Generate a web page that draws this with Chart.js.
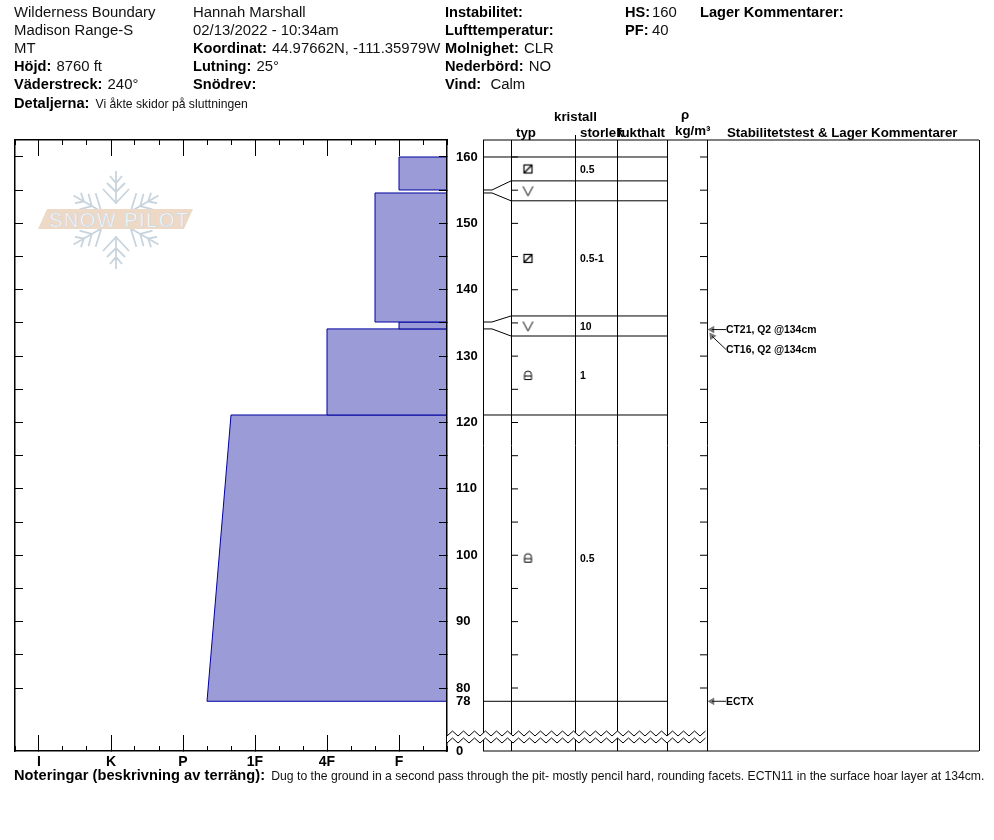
<!DOCTYPE html>
<html><head><meta charset="utf-8">
<style>
html,body{margin:0;padding:0;background:#fff;width:994px;height:840px;overflow:hidden}
body{position:relative;font-family:"Liberation Sans",Arial,sans-serif;color:#000}
.t{position:absolute;white-space:pre;font-size:14.9px;line-height:18px;color:#111}
.t b{font-weight:700;color:#000;font-size:14.6px;padding-right:1px}
.h{font-size:13.3px}
.h b{font-size:13.3px}
.s{font-size:12.2px;margin-left:1px}
canvas{position:absolute;top:0}
#logo{position:absolute;left:0;top:0}
</style></head><body>
<svg id="logo" width="300" height="300">
  <defs><g id="arm" fill="none" stroke="#c8d4dd" stroke-width="1.8">
    <path d="M0,-16V-49M-6,-44L0,-37L6,-44M-9,-37L0,-28L9,-37M-13,-31L0,-17L13,-31"/>
  </g></defs>
  <g transform="translate(116,220)">
    <use href="#arm"/><use href="#arm" transform="rotate(60)"/><use href="#arm" transform="rotate(120)"/>
    <use href="#arm" transform="rotate(180)"/><use href="#arm" transform="rotate(240)"/><use href="#arm" transform="rotate(300)"/>
  </g>
  <polygon points="38,229 47,209 193,209 184,229" fill="#eed9c6"/>
  <text x="49" y="226.5" style="font-family:'Liberation Sans',sans-serif;font-size:20px" textLength="139" lengthAdjust="spacing" fill="#fff" stroke="#cdd6dd" stroke-width="0.7">SNOW PILOT</text>
</svg>
<canvas id="hardnessChart" width="500" height="800" style="left:0"></canvas>
<canvas id="panelChart" width="547" height="800" style="left:447px"></canvas>

<div class="t" style="left:14px;top:3px">Wilderness Boundary</div>
<div class="t" style="left:14px;top:21px">Madison Range-S</div>
<div class="t" style="left:14px;top:39px">MT</div>
<div class="t" style="left:14px;top:57px"><b>Höjd:</b> 8760 ft</div>
<div class="t" style="left:14px;top:75px"><b>Väderstreck:</b> 240°</div>
<div class="t" style="left:14px;top:94px"><b>Detaljerna:</b> <span class="s">Vi åkte skidor på sluttningen</span></div>
<div class="t" style="left:193px;top:3px">Hannah Marshall</div>
<div class="t" style="left:193px;top:21px">02/13/2022 - 10:34am</div>
<div class="t" style="left:193px;top:39px"><b>Koordinat:</b> 44.97662N, -111.35979W</div>
<div class="t" style="left:193px;top:57px"><b>Lutning:</b> 25°</div>
<div class="t" style="left:193px;top:75px"><b>Snödrev:</b></div>
<div class="t" style="left:445px;top:3px"><b>Instabilitet:</b></div>
<div class="t" style="left:445px;top:21px"><b>Lufttemperatur:</b></div>
<div class="t" style="left:445px;top:39px"><b>Molnighet:</b> CLR</div>
<div class="t" style="left:445px;top:57px"><b>Nederbörd:</b> NO</div>
<div class="t" style="left:445px;top:75px"><b>Vind:</b>  Calm</div>
<div class="t" style="left:625px;top:3px"><b>HS:</b></div>
<div class="t" style="left:652px;top:3px">160</div>
<div class="t" style="left:625px;top:21px"><b>PF:</b></div>
<div class="t" style="left:652px;top:21px">40</div>
<div class="t" style="left:700px;top:3px"><b>Lager Kommentarer:</b></div>

<div class="t h" style="left:554px;top:108px"><b>kristall</b></div>
<div class="t h" style="left:516px;top:124px"><b>typ</b></div>
<div class="t h" style="left:580px;top:124px"><b>storlek</b></div>
<div class="t h" style="left:617px;top:124px"><b>fukthalt</b></div>
<div class="t h" style="left:681px;top:106px"><b>ρ</b></div>
<div class="t h" style="left:675px;top:122px"><b>kg/m³</b></div>
<div class="t h" style="left:727px;top:124px"><b>Stabilitetstest &amp; Lager Kommentarer</b></div>

<div class="t" style="left:14px;top:766px"><b style="letter-spacing:.06px">Noteringar (beskrivning av terräng):</b> <span class="s">Dug to the ground in a second pass through the pit- mostly pencil hard, rounding facets. ECTN11 in the surface hoar layer at 134cm.</span></div>

<script src="https://cdn.jsdelivr.net/npm/chart.js@4"></script>
<script>
// ---- data ----
const hardnessLabels = ['F','4F','1F','P','K','I'];
const hardnessValues = [1,2,3,4,5,6];
const hardnessMinorTicks = [1/3,2/3,4/3,5/3,7/3,8/3,10/3,11/3,13/3,14/3,16/3,17/3,19/3];
const layerTop = [160,154.58,135.14,134.1,121.13];
const layerBottom = [155.03,135.14,134.1,121.13,78];
const layerHardnessTop = [1,4/3,1,2,10/3];
const layerHardnessBottom = [1,4/3,1,2,11/3];
const heightTickValues = [160,155,150,145,140,135,130,125,120,115,110,105,100,95,90,85,80];
const heightLabelValues = [160,150,140,130,120,110,100,90,80,78];
const rowRealHeights = [160,155.03,154.58,135.14,134.1,121.13,78];
const rowDrawnHeights = [160,156.4,153.4,136.05,133.03,121.13,78];
const grainTypes = ['facet','hoar','facet','hoar','rounded','rounded'];
const grainSizes = ['0.5','','0.5-1','10','1','0.5'];
const testNames = ['CT21, Q2 @134cm','CT16, Q2 @134cm','ECTX'];
const testHeights = [134,133,78];
const testLabelHeights = [134,131,78];
const testRotations = [-90,-36,-90];

// ---- axis ranges ----
const Y_MAX = 162.56, Y_MIN = 70.51;
const X_MIN = 1/3, X_MAX = 19/3;
const FONT = '"Liberation Sans",Arial,sans-serif';
const setTicks = vals => s => { s.ticks = vals.map(v => ({value:v})); };
const size = (prop,n) => s => { s[prop] = n; };

function xAxis(position, vals, len, border, labelled){
  return {type:'linear', position, reverse:true, min:X_MIN, max:X_MAX, weight:labelled?0:-1,
    afterBuildTicks:setTicks(vals), afterFit:size('height',labelled?49:0),
    border:{display:border,color:'#000',width:1.5,z:3},
    grid:{drawOnChartArea:false,drawTicks:true,tickLength:-len,color:'#000',z:3},
    ticks:{display:labelled,autoSkip:false,maxRotation:0,padding:len+3,color:'#000',
      font:{family:FONT,size:14,weight:'bold'},
      callback:v => hardnessLabels[hardnessValues.indexOf(v)] ?? ''}};
}
function yTickAxis(position){
  return {type:'linear', position, min:Y_MIN, max:Y_MAX, weight:-1,
    afterBuildTicks:setTicks(heightTickValues), afterFit:size('width',0),
    border:{display:true,color:'#000',width:1.5,z:3},
    grid:{drawOnChartArea:false,drawTicks:true,tickLength:-8,color:'#000',z:3},
    ticks:{display:false,autoSkip:false}};
}

new Chart(document.getElementById('hardnessChart'),{
  type:'line',
  data:{datasets:layerTop.map((top,i)=>({
    xAxisID:'xMajor', yAxisID:'yRight', indexAxis:'y',
    data:[{x:X_MIN,y:layerBottom[i]},{x:layerHardnessBottom[i],y:layerBottom[i]},
          {x:layerHardnessTop[i],y:top},{x:X_MIN,y:top}],
    parsing:false, borderColor:'#0000a0', borderWidth:1, pointRadius:0, tension:0,
    backgroundColor:'#9b9bd7', fill:{value:X_MIN}, clip:false
  }))},
  options:{responsive:false,animation:false,devicePixelRatio:1,indexAxis:'y',
    layout:{autoPadding:false,padding:{left:15,right:0,top:140,bottom:0}},
    plugins:{legend:{display:false},tooltip:{enabled:false}},
    scales:{
      xMajor:xAxis('bottom',hardnessValues,16,true,true),
      xMinor:xAxis('bottom',hardnessMinorTicks,5,false,false),
      xTopMajor:xAxis('top',hardnessValues,16,true,false),
      xTopMinor:xAxis('top',hardnessMinorTicks,5,false,false),
      yRight:yTickAxis('right'),
      yLeft:yTickAxis('left'),
      yLabels:{type:'linear',position:'right',min:Y_MIN,max:Y_MAX,weight:0,
        afterBuildTicks:setTicks([...heightLabelValues,Y_MIN]),afterFit:size('width',53),
        border:{display:false},
        grid:{drawOnChartArea:false,drawTicks:false,color:'rgba(0,0,0,0)'},
        ticks:{autoSkip:false,padding:9,color:'#000',crossAlign:'near',
          font:{family:FONT,size:13,weight:'bold'},
          callback:v => v===Y_MIN ? '0' : String(v)}}
    }}
});

// ---- grain symbols ----
function symbol(type){
  const c=document.createElement('canvas'); c.width=13; c.height=13;
  const g=c.getContext('2d'); g.strokeStyle='#000'; g.lineWidth=1;
  if(type==='facet'){ g.lineWidth=1.2; g.strokeRect(2.5,2.5,8,8); g.beginPath(); g.moveTo(2.5,10.5); g.lineTo(10.5,2.5); g.stroke(); }
  else if(type==='hoar'){ g.beginPath(); g.moveTo(1.5,2); g.lineTo(6.5,11.5); g.lineTo(11.5,2); g.stroke(); }
  else { g.beginPath(); g.moveTo(3,10.5); g.lineTo(3,6); g.arc(6.5,5.5,3.5,Math.PI,0); g.lineTo(10,10.5); g.closePath(); g.moveTo(3,7); g.lineTo(10,7); g.stroke(); }
  return c;
}
const symbols={facet:symbol('facet'),hoar:symbol('hoar'),rounded:symbol('rounded')};

// ---- panel columns (panel x units) ----
const COL = {hgtL:36, bend:45, typ:64, size:128, moist:170, rho:220, dens:260, end:532};
const columnLines = [COL.hgtL,COL.typ,COL.size,COL.moist,COL.rho,COL.dens,COL.end];
const rowMid = i => (rowDrawnHeights[i]+rowDrawnHeights[i+1])/2;
const line = (pts,extra={}) => Object.assign({showLine:true,data:pts,borderColor:'#000',borderWidth:1,pointRadius:0,tension:0,clip:false},extra);
const tickMarks = xv => ({showLine:false,clip:false,data:heightTickValues.map(h=>({x:xv,y:h})),
  pointStyle:'line',pointRadius:3.5,pointBorderColor:'#000',pointBorderWidth:1});

const panelSets = [
  line([{x:COL.hgtL,y:Y_MAX},{x:COL.end,y:Y_MAX}]),
  line([{x:COL.hgtL,y:Y_MIN},{x:COL.end,y:Y_MIN}]),
  ...rowDrawnHeights.map((h,i)=>line([{x:COL.hgtL,y:rowRealHeights[i]},{x:COL.bend,y:rowRealHeights[i]},{x:COL.typ,y:h},{x:COL.rho,y:h}])),
  tickMarks(COL.typ+3.5),
  tickMarks(COL.dens-3.5),
  ...testHeights.map((h,i)=>line([{x:279,y:testLabelHeights[i]},{x:265,y:h}],{borderColor:'#111'})),
  {showLine:false,clip:false,
   data:testHeights.map(h=>({x:265,y:h})),
   pointStyle:'triangle',pointRotation:testRotations,pointRadius:4.5,
   pointBackgroundColor:'#777',pointBorderColor:'#777',pointBorderWidth:0},
  {showLine:false,clip:false,
   data:grainTypes.map((t,i)=>({x:81,y:rowMid(i)})),
   pointStyle:grainTypes.map(t=>symbols[t]),pointRadius:6}
];

const panelText = {id:'panelText',afterDatasetsDraw(ch){
  const {ctx,scales:{x,y},chartArea:a}=ch;
  ctx.save(); ctx.fillStyle='#000'; ctx.textBaseline='middle'; ctx.textAlign='left';
  ctx.font='bold 10.4px '+FONT;
  grainSizes.forEach((s,i)=>{ if(s) ctx.fillText(s,x.getPixelForValue(COL.size+5),y.getPixelForValue(rowMid(i))+1); });
  testNames.forEach((s,i)=>ctx.fillText(s,x.getPixelForValue(279),y.getPixelForValue(testLabelHeights[i])+1));
  // small stub of the size column above the frame
  ctx.strokeStyle='#000'; ctx.lineWidth=1; ctx.beginPath();
  const sx=Math.round(x.getPixelForValue(COL.size))+0.5; ctx.moveTo(sx,a.top-5); ctx.lineTo(sx,a.top); ctx.stroke();
  // axis-break zigzag
  const up=[],lo=[]; const x1=x.getPixelForValue(COL.dens); const b=a.bottom;
  for(let px=a.left,k=0;px<=x1+0.01;px+=5.5,k++){ const o=k%2?0:5; up.push([px,b-20+o]); lo.push([px,b-13+o]); }
  ctx.fillStyle='#fff'; ctx.beginPath();
  up.forEach((p,i)=>i?ctx.lineTo(p[0],p[1]):ctx.moveTo(p[0],p[1]));
  [...lo].reverse().forEach(p=>ctx.lineTo(p[0],p[1])); ctx.closePath(); ctx.fill();
  [up,lo].forEach(l=>{ctx.beginPath(); l.forEach((p,i)=>i?ctx.lineTo(p[0],p[1]):ctx.moveTo(p[0],p[1])); ctx.stroke();});
  ctx.restore();
}};

new Chart(document.getElementById('panelChart'),{
  type:'scatter',
  data:{datasets:panelSets},
  options:{responsive:false,animation:false,devicePixelRatio:1,
    layout:{autoPadding:false,padding:{left:0,right:15,top:140,bottom:49}},
    plugins:{legend:{display:false},tooltip:{enabled:false}},
    scales:{
      x:{type:'linear',min:0,max:COL.end,position:'bottom',afterBuildTicks:setTicks(columnLines),afterFit:size('height',0),
         border:{display:false},
         grid:{color:'#000',lineWidth:1,drawTicks:false},
         ticks:{display:false,autoSkip:false}},
      y:{type:'linear',display:false,min:Y_MIN,max:Y_MAX}
    }},
  plugins:[panelText]
});
</script>
</body></html>
